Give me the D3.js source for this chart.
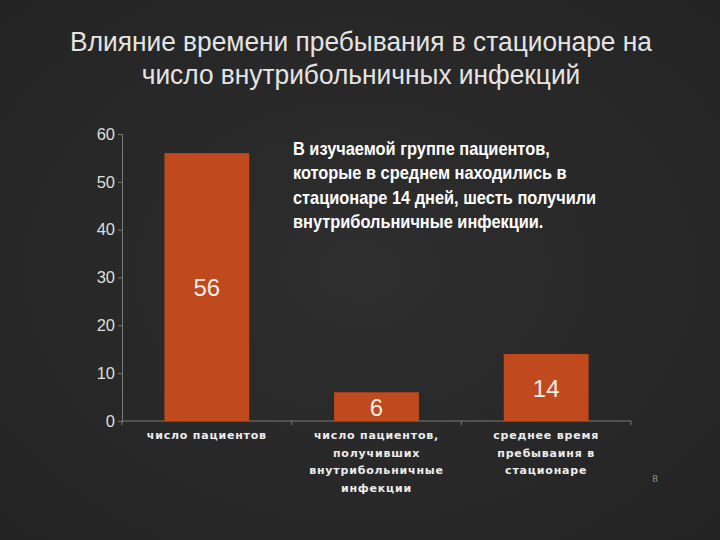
<!DOCTYPE html>
<html><head><meta charset="utf-8">
<script src="https://cdn.jsdelivr.net/npm/d3@7"></script>
<style>
html,body{margin:0;padding:0;background:#2a2a2a;}
svg{display:block;}
</style></head>
<body>
<svg id="c" width="720" height="540"></svg>
<script>
const categories = [
  ["число пациентов"],
  ["число пациентов,", "получивших", "внутрибольничные", "инфекции"],
  ["среднее время", "пребываиня в", "стационаре"]
];
const values = [56, 6, 14];
const yTicks = [0, 10, 20, 30, 40, 50, 60];
const titleLines = ["Влияние времени пребывания в стационаре на", "число внутрибольничных инфекций"];
const noteLines = ["В изучаемой группе пациентов,", "которые в среднем находились в", "стационаре 14 дней, шесть получили", "внутрибольничные инфекции."];
const pageNum = "8";

const svg = d3.select("#c");
const defs = svg.append("defs");
const g0 = defs.append("radialGradient").attr("id","bg").attr("cx","50%").attr("cy","50%").attr("r","75%");
g0.append("stop").attr("offset","0%").attr("stop-color","#2e2e2e");
g0.append("stop").attr("offset","100%").attr("stop-color","#232323");
svg.append("rect").attr("width",720).attr("height",540).attr("fill","url(#bg)");

// title
svg.append("g").attr("transform","translate(361,0) scale(0.94,1)")
  .selectAll("text").data(titleLines).join("text")
  .attr("x", 0).attr("y", (d,i)=>51 + i*33)
  .attr("text-anchor","middle")
  .attr("font-family","'Liberation Sans',Arial,sans-serif")
  .attr("font-size", 28).attr("fill","#e4e4e4")
  .text(d=>d);

const x = d3.scaleBand().domain(d3.range(values.length)).range([122, 631]).paddingInner(0.5).paddingOuter(0.25);
const y = d3.scaleLinear().domain([0, 60]).range([421, 134]);

// y axis
const ya = svg.append("g").attr("transform","translate(122,0)")
  .call(d3.axisLeft(y).tickValues(yTicks).tickSize(4).tickPadding(3));
ya.select(".domain").attr("stroke","#7a7a7a");
ya.selectAll(".tick line").attr("stroke","#7a7a7a");
ya.selectAll(".tick text").attr("fill","#dedede").attr("font-family","'Liberation Sans',Arial,sans-serif").attr("font-size",16.5);

// x axis baseline
const xa = svg.append("g").attr("transform","translate(0,421)");
const [r0, r1] = x.range();
xa.append("line").attr("x1",r0).attr("x2",r1).attr("stroke","#7a7a7a");
xa.selectAll("line.t").data(d3.range(values.length+1)).join("line").attr("class","t")
  .attr("x1",d=>r0 + d*x.step()).attr("x2",d=>r0 + d*x.step())
  .attr("y1",0).attr("y2",4).attr("stroke","#7a7a7a");

// bars
svg.append("g").selectAll("rect").data(values).join("rect")
  .attr("x",(d,i)=>x(i)).attr("width",x.bandwidth())
  .attr("y",d=>y(d)).attr("height",d=>y(0)-y(d))
  .attr("fill","#c0491d");

// value labels
svg.append("g").selectAll("text").data(values).join("text")
  .attr("x",(d,i)=>x(i)+x.bandwidth()/2)
  .attr("y",d=>(y(d)+y(0))/2+9)
  .attr("text-anchor","middle")
  .attr("font-family","'Liberation Sans',Arial,sans-serif")
  .attr("font-size",24).attr("fill","#f6eee6")
  .text(d=>d);

// category labels
const cl = svg.append("g");
categories.forEach((lines,i)=>{
  cl.append("text")
    .attr("x", x(i)+x.bandwidth()/2)
    .attr("text-anchor","middle")
    .attr("font-family","'DejaVu Sans',Verdana,sans-serif")
    .attr("font-weight","bold").attr("font-size",11).attr("letter-spacing",0.8)
    .attr("fill","#ececec")
    .selectAll("tspan").data(lines).join("tspan")
    .attr("x", x(i)+x.bandwidth()/2).attr("y",(d,j)=>439 + j*17.5)
    .text(d=>d);
});

// note
svg.append("g").attr("transform","translate(293,0) scale(0.91,1)")
  .selectAll("text").data(noteLines).join("text")
  .attr("x",0).attr("y",(d,i)=>155 + i*24.5)
  .attr("font-family","'Liberation Sans',Arial,sans-serif")
  .attr("font-weight","bold").attr("font-size",18).attr("fill","#ffffff")
  .text(d=>d);

// page number
svg.append("text").attr("x",655).attr("y",482).attr("text-anchor","middle")
  .attr("font-family","'Liberation Serif',serif").attr("font-size",11).attr("fill","#9a9a9a")
  .text(pageNum);
</script>
</body></html>
